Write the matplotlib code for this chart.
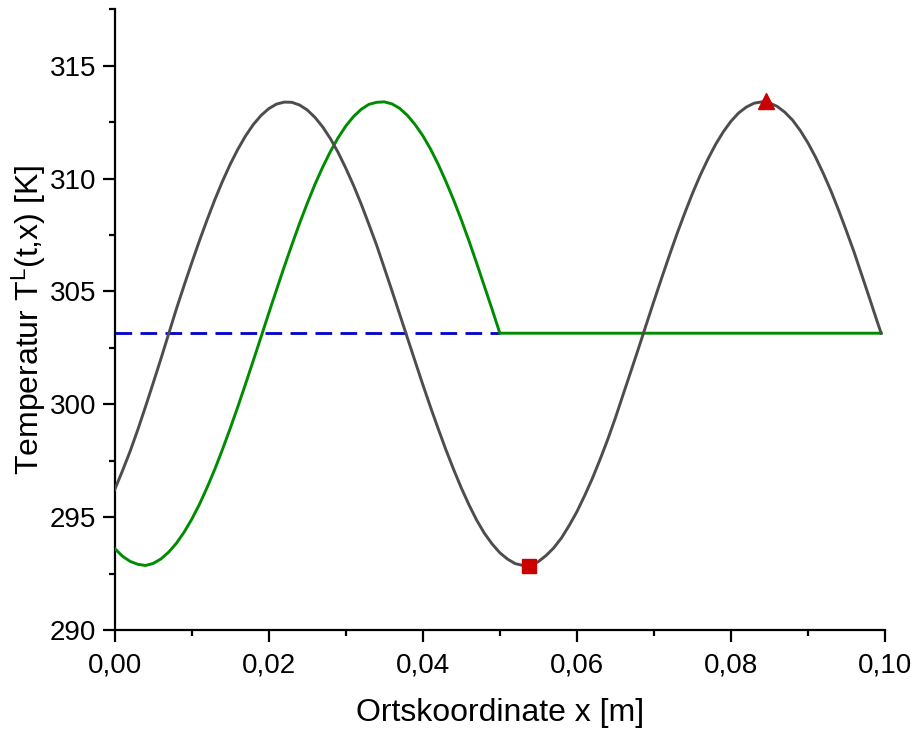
import matplotlib
matplotlib.use("Agg")
import matplotlib.pyplot as plt
from matplotlib.ticker import MultipleLocator, FuncFormatter

plt.rcParams['font.family'] = ['Liberation Sans', 'DejaVu Sans']
plt.rcParams['mathtext.fontset'] = 'custom'
plt.rcParams['mathtext.rm'] = 'Liberation Sans'
plt.rcParams['mathtext.it'] = 'Liberation Sans:italic'

# gray curve
x_gray = [0.000, 0.001, 0.002, 0.003, 0.004, 0.005, 0.006, 0.007, 0.008, 0.009,
          0.010, 0.011, 0.012, 0.013, 0.014, 0.015, 0.016, 0.017, 0.018, 0.019,
          0.020, 0.021, 0.022, 0.023, 0.024, 0.025, 0.026, 0.027, 0.028, 0.029,
          0.030, 0.031, 0.032, 0.033, 0.034, 0.035, 0.036, 0.037, 0.038, 0.039,
          0.040, 0.041, 0.042, 0.043, 0.044, 0.045, 0.046, 0.047, 0.048, 0.049,
          0.050, 0.051, 0.052, 0.053, 0.054, 0.055, 0.056, 0.057, 0.058, 0.059,
          0.060, 0.061, 0.062, 0.063, 0.064, 0.065, 0.066, 0.067, 0.068, 0.069,
          0.070, 0.071, 0.072, 0.073, 0.074, 0.075, 0.076, 0.077, 0.078, 0.079,
          0.080, 0.081, 0.082, 0.083, 0.084, 0.085, 0.086, 0.087, 0.088, 0.089,
          0.090, 0.091, 0.092, 0.093, 0.094, 0.095, 0.096, 0.097, 0.098, 0.099, 0.0995]
T_gray = [296.22, 297.05, 297.92, 298.88, 299.90, 300.95, 302.02, 303.12, 304.22, 305.26,
          306.27, 307.25, 308.18, 309.07, 309.89, 310.64, 311.31, 311.90, 312.40, 312.80,
          313.10, 313.30, 313.39, 313.38, 313.26, 313.04, 312.71, 312.29, 311.77, 311.16,
          310.46, 309.70, 308.87, 307.97, 307.05, 306.04, 305.02, 303.98, 302.94, 301.90,
          300.87, 299.87, 298.91, 297.98, 297.11, 296.29, 295.54, 294.86, 294.28, 293.81,
          293.42, 293.14, 292.94, 292.86, 292.86, 293.03, 293.30, 293.64, 294.08, 294.63,
          295.24, 295.95, 296.71, 297.55, 298.44, 299.40, 300.43, 301.45, 302.48, 303.53,
          304.57, 305.59, 306.59, 307.56, 308.47, 309.34, 310.14, 310.86, 311.51, 312.07,
          312.54, 312.91, 313.17, 313.34, 313.40, 313.35, 313.20, 312.94, 312.59, 312.13,
          311.58, 310.94, 310.22, 309.44, 308.58, 307.67, 306.73, 305.71, 304.69, 303.65, 303.15]

# green curve
x_green = [0.000, 0.001, 0.002, 0.003, 0.004, 0.005, 0.006, 0.007, 0.008, 0.009,
           0.010, 0.011, 0.012, 0.013, 0.014, 0.015, 0.016, 0.017, 0.018, 0.019,
           0.020, 0.021, 0.022, 0.023, 0.024, 0.025, 0.026, 0.027, 0.028, 0.029,
           0.030, 0.031, 0.032, 0.033, 0.034, 0.035, 0.036, 0.037, 0.038, 0.039,
           0.040, 0.041, 0.042, 0.043, 0.044, 0.045, 0.046, 0.047, 0.048, 0.049,
           0.050, 0.0995]
T_green = [293.61, 293.27, 293.04, 292.91, 292.86, 292.95, 293.15, 293.45, 293.84, 294.33,
           294.91, 295.57, 296.32, 297.13, 298.01, 298.94, 299.91, 300.92, 301.95, 302.99,
           304.04, 305.07, 306.09, 307.07, 308.02, 308.91, 309.75, 310.51, 311.20, 311.81,
           312.33, 312.75, 313.07, 313.29, 313.38, 313.40, 313.31, 313.11, 312.80, 312.39,
           311.90, 311.31, 310.63, 309.87, 309.05, 308.17, 307.23, 306.24, 305.22, 304.20,
           303.15, 303.15]

# blue dashed initial level
x_blue = [0.000, 0.050]
T_blue = [303.15, 303.15]

# red markers
x_min, T_min = [0.0538], [292.85]
x_max, T_max = [0.0845], [313.45]

fig = plt.figure(figsize=(9.12, 7.29), dpi=100)
ax = fig.add_axes([0.1258, 0.1358, 0.8446, 0.8514])

ax.plot(x_blue, T_blue, color='#0000cc', lw=2.0, dashes=(6, 3), zorder=2)
ax.plot(x_green, T_green, color='#008c00', lw=2.1, zorder=3, solid_joinstyle='round')
ax.plot(x_gray, T_gray, color='#4d4d4d', lw=2.1, zorder=4, solid_joinstyle='round')
ax.plot(x_min, T_min, linestyle='none', marker='s', ms=9.6, color='#cc0000', zorder=5)
ax.plot(x_max, T_max, linestyle='none', marker='^', ms=12, color='#cc0000', zorder=5)

ax.set_xlim(0, 0.10)
ax.set_ylim(290, 317.5)
ax.spines['top'].set_visible(False)
ax.spines['right'].set_visible(False)
for s in ('left', 'bottom'):
    ax.spines[s].set_linewidth(1.6)

ax.xaxis.set_major_locator(MultipleLocator(0.02))
ax.xaxis.set_minor_locator(MultipleLocator(0.01))
ax.yaxis.set_major_locator(MultipleLocator(5))
ax.yaxis.set_minor_locator(MultipleLocator(2.5))
ax.xaxis.set_major_formatter(FuncFormatter(lambda v, p: f"{v:.2f}".replace('.', ',')))
ax.yaxis.set_major_formatter(FuncFormatter(lambda v, p: f"{v:.0f}"))
ax.tick_params(which='major', direction='out', length=8.5, width=1.6, labelsize=20, pad=5)
ax.tick_params(axis='x', which='major', pad=8)
ax.tick_params(which='minor', direction='out', length=4.3, width=1.6)

ax.set_xlabel('Ortskoordinate x [m]', fontsize=23, labelpad=14)
ax.set_ylabel(r'Temperatur T$^{\mathrm{L}}$(t,x) [K]', fontsize=23, labelpad=1)

fig.savefig('out.png', dpi=100)
